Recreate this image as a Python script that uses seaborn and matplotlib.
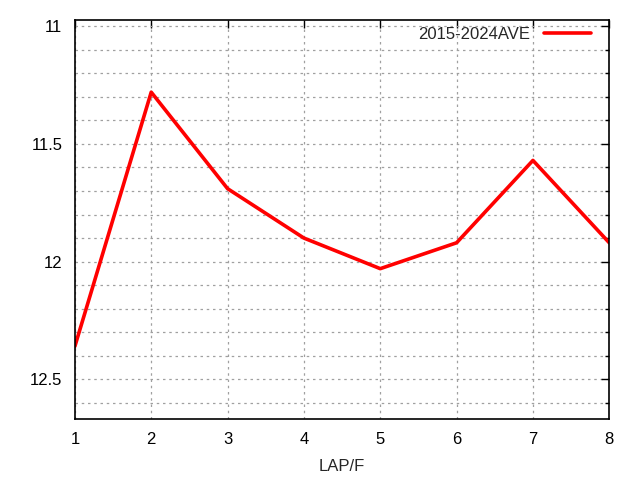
import matplotlib
matplotlib.use("Agg")
import matplotlib.pyplot as plt
import seaborn as sns
import pandas as pd
from matplotlib.ticker import MultipleLocator, FormatStrFormatter

laps = [1, 2, 3, 4, 5, 6, 7, 8]
ave = [12.36, 11.28, 11.69, 11.90, 12.03, 11.92, 11.57, 11.92]
series_name = "2015-2024AVE"

sns.set_style("white")
plt.rcParams['font.family'] = ['Liberation Sans', 'DejaVu Sans']

df = pd.DataFrame({"LAP/F": laps, "time": ave, "series": series_name})

fig = plt.figure(figsize=(6.4, 4.8), dpi=100)
ax = fig.add_axes([0.117, 0.127, 0.835, 0.832])
sns.lineplot(data=df, x="LAP/F", y="time", hue="series", palette=["#ff0000"],
             linewidth=2.6, ax=ax)

ax.set_xlim(1, 8)
ax.set_ylim(12.669, 10.972)
ax.xaxis.set_major_locator(MultipleLocator(1))
ax.yaxis.set_major_locator(MultipleLocator(0.5))
ax.yaxis.set_minor_locator(MultipleLocator(0.1))
ax.yaxis.set_major_formatter(FormatStrFormatter('%g'))
ax.grid(True, which='both', axis='y', color='#a0a0a0', linestyle=(0, (2, 3)), linewidth=0.9)
ax.grid(True, which='major', axis='x', color='#a0a0a0', linestyle=(0, (2, 3)), linewidth=0.9)
ax.tick_params(which='both', direction='in', top=True, right=True, labelsize=12, colors='black')
ax.tick_params(which='major', length=6, width=1, pad=9)
ax.tick_params(which='minor', length=3, width=1)
for s in ax.spines.values():
    s.set_color('black')
    s.set_linewidth(1.2)
ax.set_xlabel("LAP/F", fontsize=12, labelpad=9)
ax.set_ylabel("")
leg = ax.legend(loc='upper right', frameon=False, markerfirst=False, fontsize=12,
                handlelength=2.8, borderaxespad=0.5, borderpad=0.4, handletextpad=0.85,
                bbox_to_anchor=(0.993, 1.02))
fig.savefig("out.png", dpi=100)
